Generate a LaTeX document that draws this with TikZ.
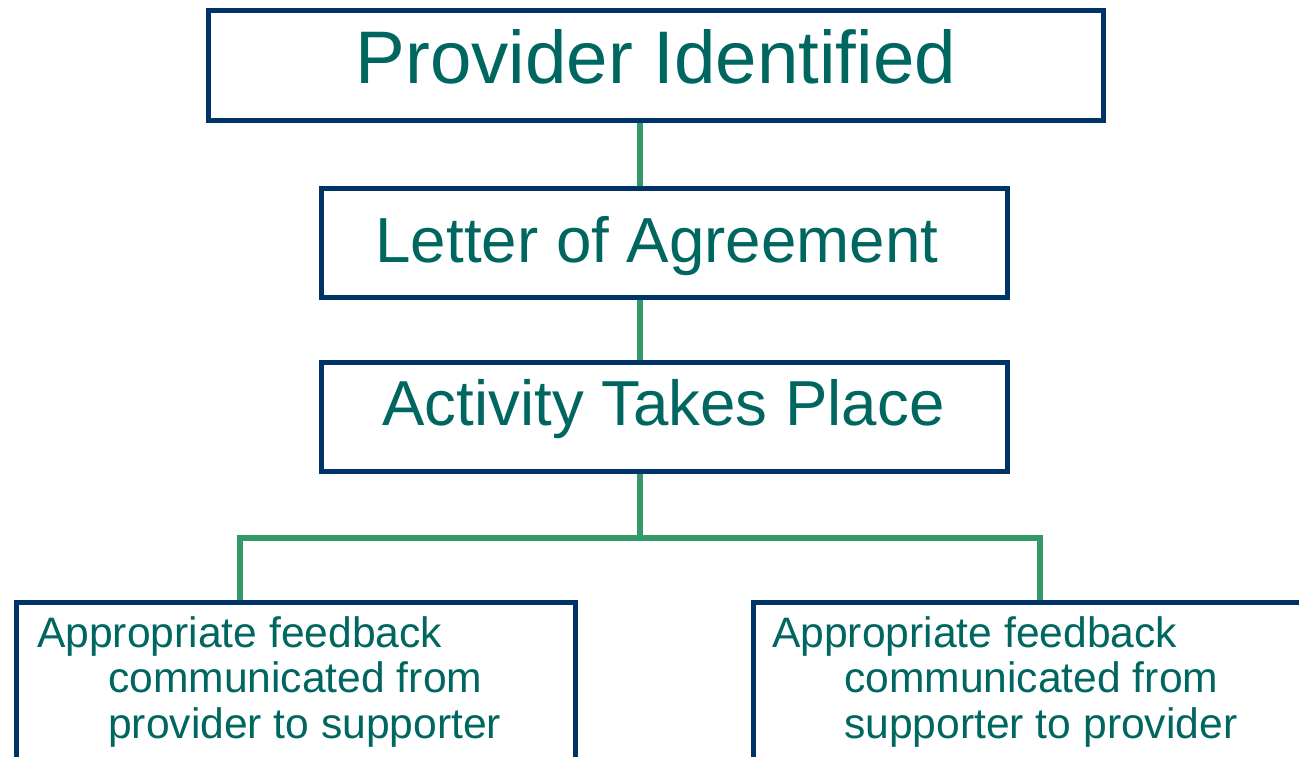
\documentclass[tikz,border=0pt]{standalone}
\usepackage{fontspec}
\setmainfont{Liberation Sans}
\definecolor{navy}{RGB}{0,51,102}
\definecolor{link}{RGB}{51,153,102}
\definecolor{teal}{RGB}{0,102,96}
\tikzset{
  boxnode/.style={draw=navy, line width=5pt, rectangle, inner sep=0pt, fill=white},
  linkline/.style={draw=link, line width=5.5pt},
  txt/.style={text=teal, inner sep=0pt, anchor=base},
  ltxt/.style={text=teal, inner sep=0pt, anchor=base west, font=\fontsize{42.6}{46}\selectfont},
}
\begin{document}
\begin{tikzpicture}[x=1pt,y=-1pt]
\useasboundingbox (0,0) rectangle (1299,756);
\clip (0,0) rectangle (1299,756);
\coordinate (c) at (640,538);
\coordinate (jl) at (240,538);
\coordinate (jr) at (1040,538);
% boxes
\node[boxnode, minimum width=895pt, minimum height=110pt] (b1) at (655.5,65) {};
\node[boxnode, minimum width=686.5pt, minimum height=109.5pt] (b2) at (664.25,242.75) {};
\node[boxnode, minimum width=686.5pt, minimum height=108.5pt] (b3) at (664.25,416.75) {};
\node[boxnode, minimum width=559pt, minimum height=200pt] (bl) at (295.5,702) {};
\node[boxnode, minimum width=600pt, minimum height=200pt] (br) at (1053,702) {};
% connectors
\draw[linkline] (b1.south -| c) -- (b2.north -| c);
\draw[linkline] (b2.south -| c) -- (b3.north -| c);
\draw[linkline] (b3.south -| c) -- (c);
\draw[linkline] (bl.north -| jl) -- (jl) -- (jr) -- (br.north -| jr);
% texts
\node[txt, font=\fontsize{74.5}{80}\selectfont] (t1) at (656,83) {Provider Identified};
\node[txt, font=\fontsize{63.7}{70}\selectfont] (t2) at (657,262) {Letter of Agreement};
\node[txt, font=\fontsize{63.6}{70}\selectfont] (t3) at (663.5,425) {Activity Takes Place};
\node[ltxt] (l1) at (37,647) {Appropriate feedback};
\node[ltxt] (l2) at (108,692.5) {communicated from};
\node[ltxt] (l3) at (108,738) {provider to supporter};
\node[ltxt] (r1) at (772,647) {Appropriate feedback};
\node[ltxt] (r2) at (844,692.5) {communicated from};
\node[ltxt] (r3) at (844,738) {supporter to provider};
\end{tikzpicture}
\end{document}
